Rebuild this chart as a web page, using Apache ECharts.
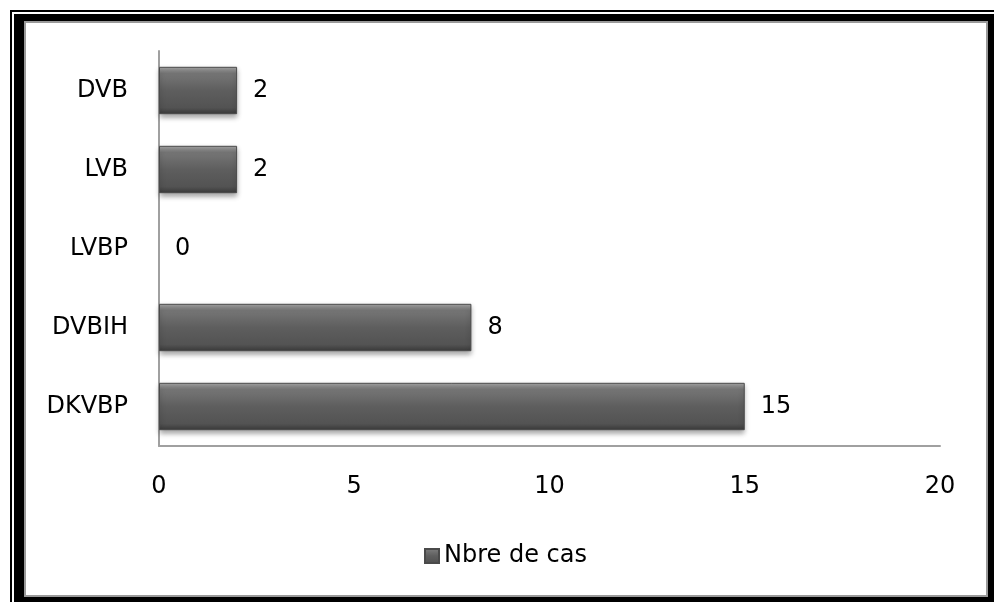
<!DOCTYPE html>
<html>
<head>
<meta charset="utf-8">
<style>
	html, body {
		margin: 0;
		padding: 0;
		background: #ffffff;
	}
	#main {
		width: 994px;
		height: 602px;
	}
</style>
</head>
<body>
<div id="main"></div>
<script src="https://cdn.jsdelivr.net/npm/echarts@6/dist/echarts.min.js"></script>
<script>
	// données du graphique (de bas en haut)
	var categories = ['DKVBP', 'DVBIH', 'LVBP', 'LVB', 'DVB'];
	var nbreCas = [15, 8, 0, 2, 2];
	var seriesName = 'Nbre de cas';
	var xTicks = [0, 5, 10, 15, 20];

	var font = 'DejaVu Sans';

	var myChart = echarts.init(document.getElementById('main'));

	// dégradé "biseau" des barres
	var barColor = new echarts.graphic.LinearGradient(0, 0, 0, 1, [
		{ offset: 0, color: '#a8a8a8' },
		{ offset: 0.14, color: '#767676' },
		{ offset: 0.5, color: '#5e5e5e' },
		{ offset: 0.86, color: '#535353' },
		{ offset: 1, color: '#3a3a3a' }
	]);

	// pas d'ombre pour les barres à zéro
	var barData = nbreCas.map(function (v) {
		if (v === 0) {
			return { value: v, itemStyle: { borderWidth: 0, shadowBlur: 0, shadowOffsetY: 0, opacity: 0 } };
		}
		return v;
	});

	var option = {
		backgroundColor: '#ffffff',
		animation: false,
		textStyle: { fontFamily: font },
		// cadre autour du graphique
		graphic: [
			{ type: 'rect', z: -100, silent: true, shape: { x: 11, y: 11, width: 990, height: 600 },
				style: { fill: null, stroke: '#000', lineWidth: 2 } },
			{ type: 'rect', z: -99, silent: true, shape: { x: 14, y: 14, width: 980, height: 588 },
				style: { fill: '#000' } },
			{ type: 'rect', z: -98, silent: true, shape: { x: 25, y: 22, width: 962, height: 574 },
				style: { fill: '#fff', stroke: '#9a9a9a', lineWidth: 2 } }
		],
		grid: {
			left: 159,
			top: 51,
			width: 781,
			height: 395,
			containLabel: false
		},
		legend: {
			data: [{ name: seriesName, icon: 'rect' }],
			left: 419,
			top: 539,
			itemWidth: 14,
			itemHeight: 14,
			itemGap: 7,
			textStyle: { fontSize: 24, color: '#000', fontFamily: font }
		},
		xAxis: {
			type: 'value',
			min: xTicks[0],
			max: xTicks[xTicks.length - 1],
			interval: 5,
			axisLine: { show: true, lineStyle: { color: '#a0a0a0', width: 2 } },
			axisTick: { show: false },
			splitLine: { show: false },
			axisLabel: { fontSize: 24, color: '#000', margin: 29, fontFamily: font }
		},
		yAxis: {
			type: 'category',
			data: categories,
			axisLine: { show: true, lineStyle: { color: '#a0a0a0', width: 2 } },
			axisTick: { show: false },
			axisLabel: { fontSize: 24, color: '#000', margin: 31, fontFamily: font }
		},
		series: [{
			name: seriesName,
			type: 'bar',
			data: barData,
			barCategoryGap: '40%',
			itemStyle: {
				color: barColor,
				borderColor: '#4a4a4a',
				borderWidth: 1,
				shadowColor: 'rgba(0,0,0,0.35)',
				shadowBlur: 5,
				shadowOffsetY: 3
			},
			label: {
				show: true,
				position: 'right',
				distance: 16,
				fontSize: 24,
				color: '#000',
				fontFamily: font,
				opacity: 1
			}
		}]
	};

	myChart.setOption(option);
</script>
</body>
</html>
